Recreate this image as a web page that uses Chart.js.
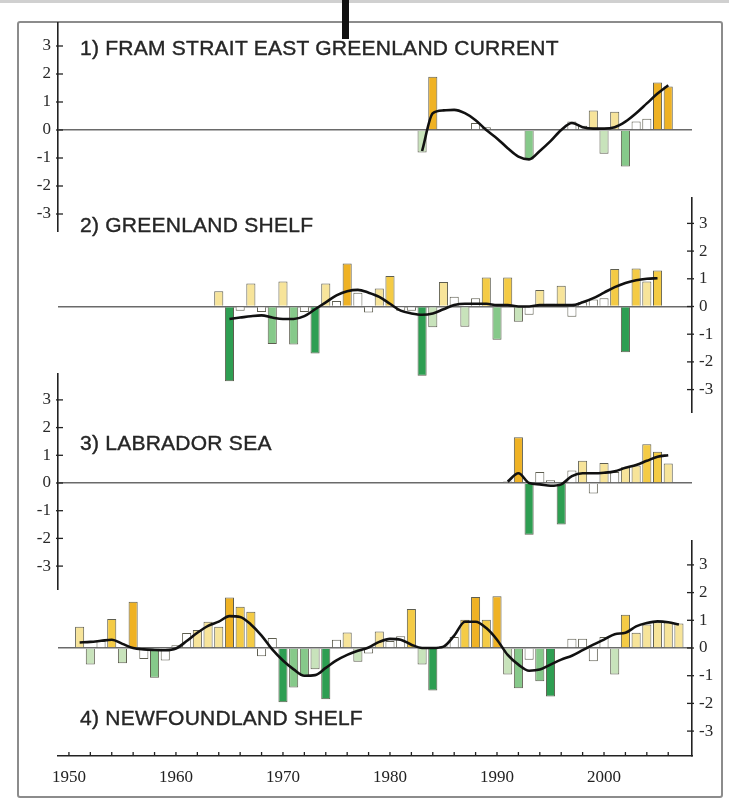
<!DOCTYPE html>
<html>
<head>
<meta charset="utf-8">
<title>Hydrographic anomalies</title>
<script src="https://cdn.jsdelivr.net/npm/chart.js@4.4.3/dist/chart.umd.js"></script>
<style>
  html, body { margin: 0; padding: 0; background: #fff; }
  body { width: 729px; height: 800px; position: relative; overflow: hidden; font-family: 'Liberation Sans', Arial, sans-serif; }
  #topband { position: absolute; left: 0; top: 0; width: 729px; height: 3px; background: #d0d0d0; }
  #frame { position: absolute; left: 17px; top: 21px; width: 706px; height: 777px; box-sizing: border-box; border: 2px solid #8c8c8c; border-radius: 3px; }
  #marker { position: absolute; left: 342px; top: 0; width: 7px; height: 39px; background: #111; z-index: 6; }
  canvas { position: absolute; left: 0; }
  .title { position: absolute; left: 80px; font-size: 21px; line-height: 24px; letter-spacing: 0.25px; color: #262626; white-space: nowrap; z-index: 5; -webkit-text-stroke: 0.4px #262626; }
</style>
</head>
<body>
  <div id="topband"></div>
  <div id="frame"></div>
  <div id="marker"></div>

  <canvas id="c1" width="729" height="210" style="top:22px"></canvas>
  <canvas id="c2" width="729" height="216" style="top:197px"></canvas>
  <canvas id="c3" width="729" height="217" style="top:373px"></canvas>
  <canvas id="c4" width="729" height="250" style="top:540px"></canvas>

  <div class="title" style="top:36px">1) FRAM STRAIT EAST GREENLAND CURRENT</div>
  <div class="title" style="top:213px">2) GREENLAND SHELF</div>
  <div class="title" style="top:431px">3) LABRADOR SEA</div>
  <div class="title" style="top:706px">4) NEWFOUNDLAND SHELF</div>

<script>
// years 1950 .. 2007, one slot per year
const years = [
  1950, 1951, 1952, 1953, 1954, 1955, 1956, 1957, 1958, 1959,
  1960, 1961, 1962, 1963, 1964, 1965, 1966, 1967, 1968, 1969,
  1970, 1971, 1972, 1973, 1974, 1975, 1976, 1977, 1978, 1979,
  1980, 1981, 1982, 1983, 1984, 1985, 1986, 1987, 1988, 1989,
  1990, 1991, 1992, 1993, 1994, 1995, 1996, 1997, 1998, 1999,
  2000, 2001, 2002, 2003, 2004, 2005, 2006, 2007
];
const xTicks = [1950, 1952, 1954, 1956, 1958, 1960, 1962, 1964, 1966, 1968,
  1970, 1972, 1974, 1976, 1978, 1980, 1982, 1984, 1986, 1988,
  1990, 1992, 1994, 1996, 1998, 2000, 2002, 2004, 2006];
const yTicks = [-3, -2, -1, 0, 1, 2, 3];

// 1) Fram Strait East Greenland Current
const framBars = [
  null, null, null, null, null, null, null, null, null, null,
  null, null, null, null, null, null, null, null, null, null,
  null, null, null, null, null, null, null, null, null, null,
  null, null, null, -0.8, 1.9, null, null, null, 0.25, 0.1,
  null, null, null, -1.05, null, null, null, 0.3, 0.15, 0.7,
  -0.85, 0.65, -1.3, 0.3, 0.4, 1.7, 1.55, null
];
const framSmooth = [
  null, null, null, null, null, null, null, null, null, null,
  null, null, null, null, null, null, null, null, null, null,
  null, null, null, null, null, null, null, null, null, null,
  null, null, null, -0.75, 0.6, 0.7, 0.72, 0.6, 0.35, 0.0,
  -0.3, -0.65, -0.95, -1.05, -0.75, -0.4, 0.0, 0.25, 0.1, 0.05,
  0.05, 0.1, 0.3, 0.6, 0.95, 1.3, 1.6, null
];

// 2) Greenland Shelf
const greenlandBars = [
  null, null, null, null, null, null, null, null, null, null,
  null, null, null, null, 0.55, -2.7, -0.15, 0.83, -0.2, -1.35,
  0.9, -1.37, -0.2, -1.7, 0.83, 0.2, 1.55, 0.5, -0.22, 0.65,
  1.1, -0.15, -0.15, -2.5, -0.75, 0.88, 0.35, -0.73, 0.3, 1.05,
  -1.2, 1.05, -0.55, -0.3, 0.6, 0.1, 0.75, -0.37, 0.15, 0.25,
  0.3, 1.35, -1.65, 1.37, 0.9, 1.3, null, null
];
const greenlandSmooth = [
  null, null, null, null, null, null, null, null, null, null,
  null, null, null, null, null, -0.45, -0.4, -0.35, -0.32, -0.4,
  -0.45, -0.45, -0.35, -0.1, 0.15, 0.4, 0.55, 0.6, 0.5, 0.35,
  0.1, -0.15, -0.25, -0.3, -0.25, -0.1, 0.05, 0.1, 0.1, 0.1,
  0.05, 0.05, 0.0, 0.0, 0.05, 0.05, 0.05, 0.05, 0.15, 0.3,
  0.5, 0.7, 0.85, 0.95, 1.0, 1.02, null, null
];

// 3) Labrador Sea
const labradorBars = [
  null, null, null, null, null, null, null, null, null, null,
  null, null, null, null, null, null, null, null, null, null,
  null, null, null, null, null, null, null, null, null, null,
  null, null, null, null, null, null, null, null, null, null,
  null, 0.05, 1.65, -1.87, 0.4, 0.1, -1.5, 0.45, 0.8, -0.38,
  0.72, 0.4, 0.57, 0.63, 1.4, 1.13, 0.7, null
];
const labradorSmooth = [
  null, null, null, null, null, null, null, null, null, null,
  null, null, null, null, null, null, null, null, null, null,
  null, null, null, null, null, null, null, null, null, null,
  null, null, null, null, null, null, null, null, null, null,
  null, 0.05, 0.35, 0.0, -0.05, -0.1, -0.05, 0.25, 0.35, 0.35,
  0.37, 0.42, 0.55, 0.65, 0.8, 0.95, 1.0, null
];

// 4) Newfoundland Shelf
const newfoundlandBars = [
  null, 0.77, -0.6, 0.25, 1.05, -0.55, 1.67, -0.4, -1.07, -0.45,
  0.1, 0.54, 0.65, 0.95, 0.77, 1.82, 1.49, 1.31, -0.3, 0.36,
  -1.96, -1.43, -1.0, -0.77, -1.85, 0.3, 0.56, -0.5, -0.2, 0.6,
  0.25, 0.42, 1.41, -0.6, -1.53, 0.05, 0.4, 1.02, 1.84, 1.02,
  1.87, -0.96, -1.45, -0.42, -1.2, -1.75, null, 0.33, 0.33, -0.48,
  0.4, -0.96, 1.2, 0.55, 0.85, 0.93, 0.93, 0.88
];
const newfoundlandSmooth = [
  null, 0.2, 0.22, 0.26, 0.3, 0.15, 0.0, -0.05, -0.07, -0.08,
  -0.02, 0.25, 0.55, 0.8, 0.95, 1.15, 1.12, 0.85, 0.45, -0.05,
  -0.45, -0.77, -1.0, -0.98, -0.72, -0.45, -0.25, -0.1, 0.02, 0.22,
  0.33, 0.3, 0.12, 0.0, 0.0, 0.05, 0.45, 0.95, 0.95, 0.72,
  0.3, -0.25, -0.6, -0.82, -0.78, -0.6, -0.42, -0.28, -0.08, 0.12,
  0.3, 0.5, 0.55, 0.78, 0.9, 0.96, 0.93, 0.85
];

function barColor(v) {
  if (v == null) return '#ffffff';
  if (v >= 1.5) return '#efb224';
  if (v >= 1.0) return '#f4cb45';
  if (v >= 0.55) return '#f7e49a';
  if (v > -0.5) return '#ffffff';
  if (v > -1.0) return '#c8e3bb';
  if (v > -1.5) return '#86c98a';
  return '#2e9e52';
}

// tick marks pointing into the plot, like the printed figure
const innerTicks = {
  id: 'innerTicks',
  afterDraw(chart) {
    const ctx = chart.ctx;
    ctx.save();
    ctx.strokeStyle = '#222';
    ctx.lineWidth = 1.3;
    ['x', 'y'].forEach(id => {
      const s = chart.scales[id];
      if (!s || !s.options.display) return;
      s.ticks.forEach(t => {
        const p = s.getPixelForValue(t.value);
        ctx.beginPath();
        if (s.axis === 'y') {
          const x0 = s.position === 'left' ? s.right : s.left;
          const dir = s.position === 'left' ? 1 : -1;
          ctx.moveTo(x0 - dir * 2, p);
          ctx.lineTo(x0 + dir * 5, p);
        } else {
          ctx.moveTo(p, s.top);
          ctx.lineTo(p, s.top - 4);
        }
        ctx.stroke();
      });
    });
    ctx.restore();
  }
};

function makePanel(canvasId, bars, smooth, side, yMin, yMax, showX) {
  const barData = years.map((yr, i) => ({ x: yr, y: bars[i] }));
  const lineData = years.map((yr, i) => ({ x: yr, y: smooth[i] }));
  return new Chart(document.getElementById(canvasId), {
    type: 'bar',
    data: {
      datasets: [
        {
          type: 'line',
          data: lineData,
          borderColor: '#111',
          borderWidth: 2.6,
          pointRadius: 0,
          cubicInterpolationMode: 'monotone',
          order: 0
        },
        {
          type: 'bar',
          data: barData,
          backgroundColor: c => barColor(c.raw ? c.raw.y : null),
          borderColor: '#5e5e50',
          borderWidth: 1,
          categoryPercentage: 1,
          barPercentage: 0.85,
          order: 1
        }
      ]
    },
    options: {
      responsive: false,
      animation: false,
      layout: {
        padding: side === 'left'
          ? { left: 0, right: 37, top: 0, bottom: 0 }
          : { left: 58, right: 0, top: 0, bottom: 0 }
      },
      plugins: { legend: { display: false }, tooltip: { enabled: false } },
      scales: {
        x: {
          type: 'linear',
          min: 1950,
          max: 2007.2,
          display: showX,
          grid: { display: false },
          border: { display: true, color: '#222', width: 1.6 },
          afterBuildTicks: s => { s.ticks = xTicks.map(v => ({ value: v })); },
          afterFit: s => { s.height = showX ? 34 : 0; s.paddingLeft = 0; s.paddingRight = 0; },
          ticks: {
            autoSkip: false,
            maxRotation: 0,
            padding: 3,
            color: '#222',
            font: { family: "'Liberation Serif', 'DejaVu Serif', serif", size: 17 },
            callback: v => (v % 10 === 0 ? String(v) : '')
          }
        },
        y: {
          position: side,
          min: yMin,
          max: yMax,
          afterBuildTicks: s => { s.ticks = yTicks.map(v => ({ value: v })); },
          afterFit: s => {
            s.width = side === 'left' ? 58 : 37;
            s.paddingTop = 0;
            s.paddingBottom = 0;
          },
          grid: {
            drawTicks: false,
            color: c => (c.tick && c.tick.value === 0 ? '#6a6a6a' : 'rgba(0,0,0,0)'),
            lineWidth: 1.6
          },
          border: { display: true, color: '#222', width: 1.6 },
          ticks: {
            padding: 7,
            color: '#2a2a2a',
            font: { family: "'Liberation Serif', 'DejaVu Serif', serif", size: 17 },
            callback: v => String(v)
          }
        }
      }
    },
    plugins: [innerTicks]
  });
}

makePanel('c1', framBars, framSmooth, 'left', -3.643, 3.857, false);
makePanel('c2', greenlandBars, greenlandSmooth, 'right', -3.845, 3.953, false);
makePanel('c3', labradorBars, labradorSmooth, 'left', -3.863, 3.971, false);
makePanel('c4', newfoundlandBars, newfoundlandSmooth, 'right', -3.899, 3.899, true);
</script>
</body>
</html>
